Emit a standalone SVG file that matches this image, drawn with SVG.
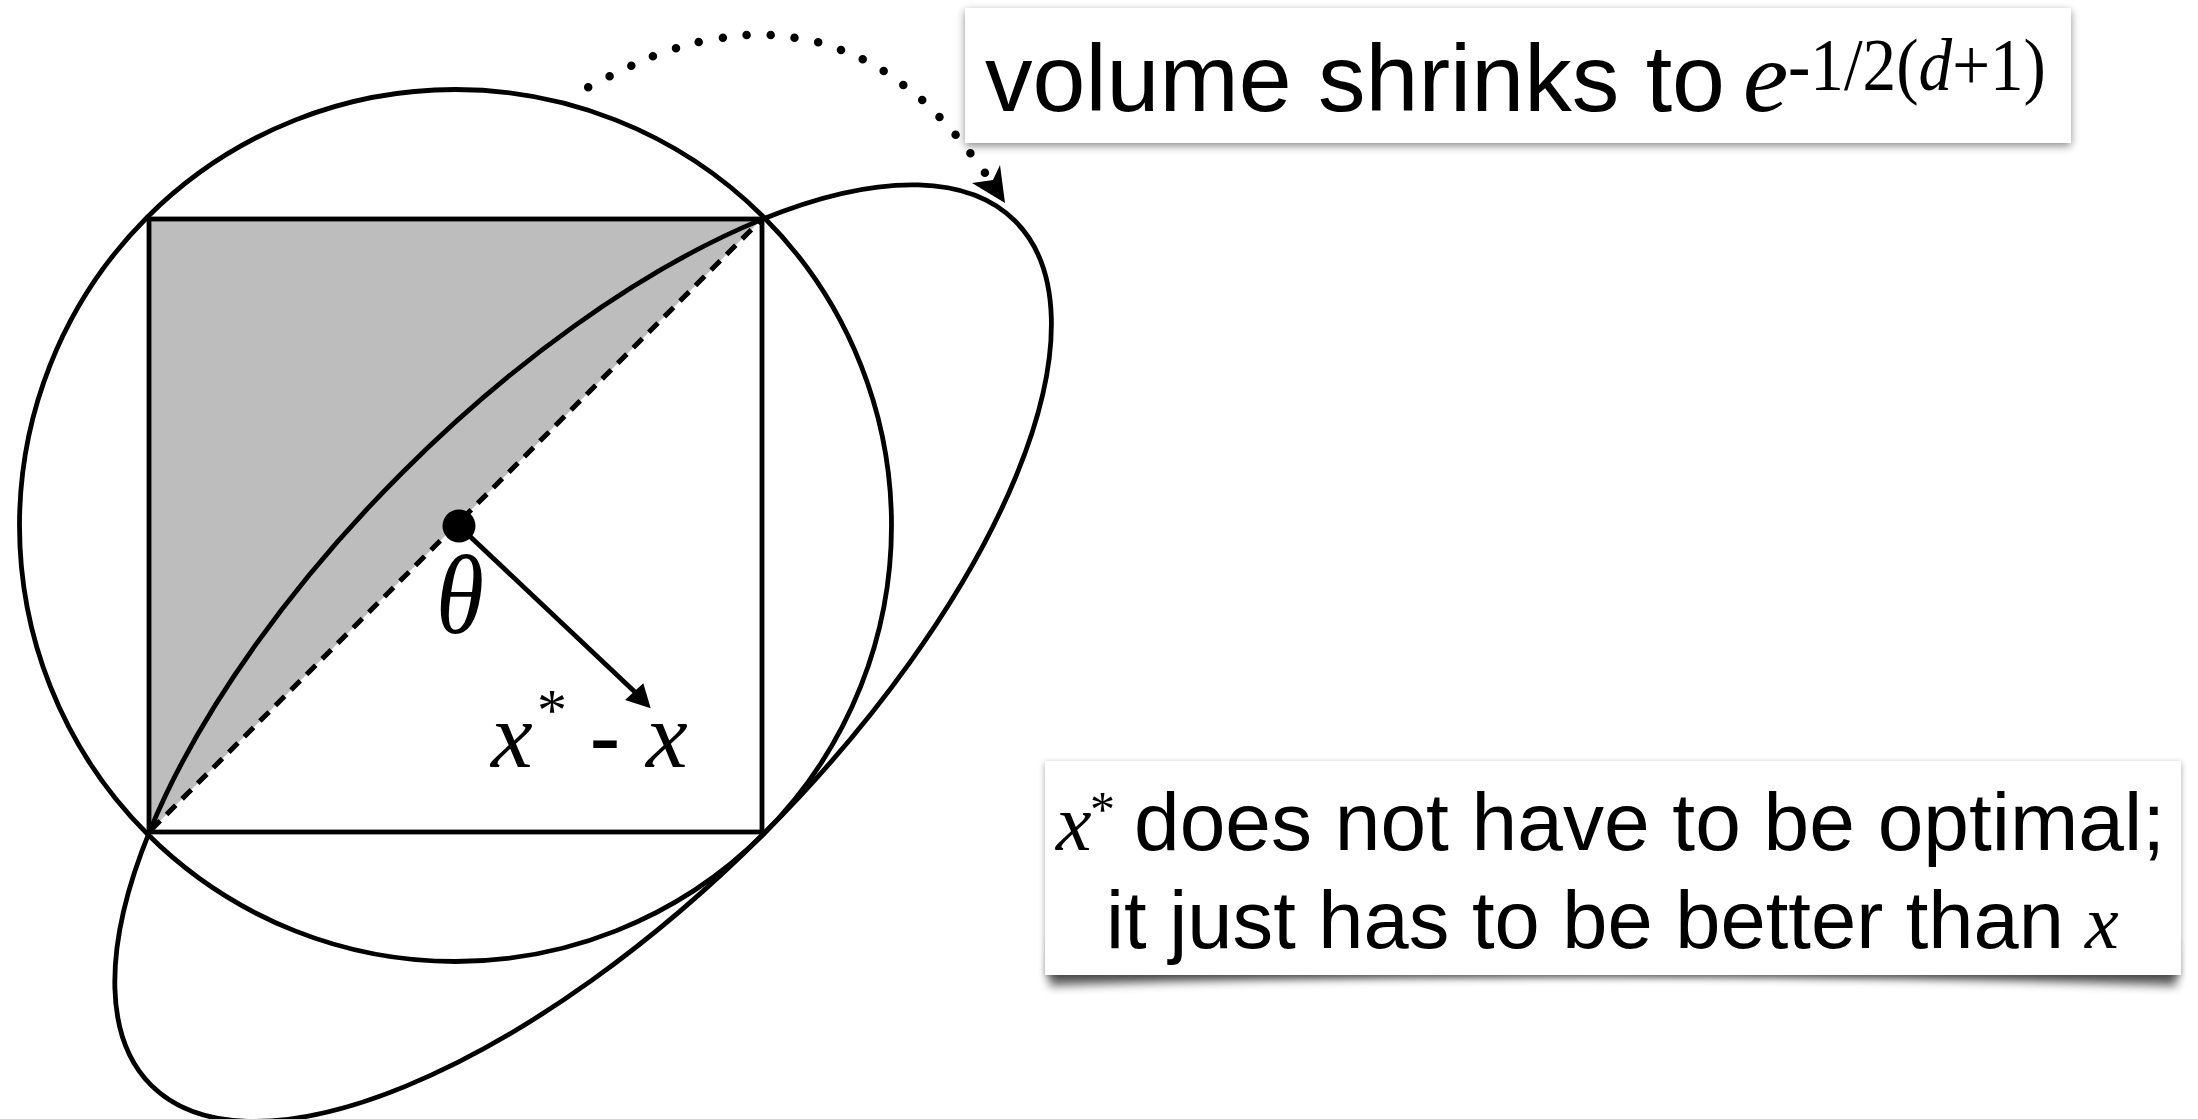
<svg xmlns="http://www.w3.org/2000/svg" width="2198" height="1119" viewBox="0 0 2198 1119">
  <style>
    .ln { fill: none; stroke: #000; stroke-width: 4.8; }
    .sans { font-family: "Liberation Sans", Arial, sans-serif; fill: #000; }
    .serif { font-family: "Liberation Serif", "Times New Roman", serif; fill: #000; }
    .it { font-style: italic; }
  </style>
  <defs>
    <filter id="sh1" x="-5%" y="-20%" width="110%" height="150%">
      <feDropShadow dx="0" dy="3" stdDeviation="4" flood-color="#000" flood-opacity="0.45"/>
    </filter>
    <filter id="sh2" x="-5%" y="-20%" width="110%" height="150%">
      <feDropShadow dx="0" dy="2" stdDeviation="3" flood-color="#000" flood-opacity="0.35"/>
    </filter>
    <filter id="blur" x="-10%" y="-100%" width="120%" height="300%">
      <feGaussianBlur stdDeviation="5"/>
    </filter>
  </defs>
  <rect width="2198" height="1119" fill="#fff"/>

  <g id="shaded-half">
    <polygon points="149,219 762,219 149,832" fill="#bdbdbd"/>
  </g>
  <g id="square">
    <rect x="149" y="219" width="613" height="613" class="ln"/>
  </g>
  <g id="circle">
    <circle cx="455.5" cy="525.5" r="436" class="ln"/>
  </g>
  <g id="ellipse">
    <ellipse cx="583.1" cy="653.1" rx="611" ry="255.5" transform="rotate(-45 583.1 653.1)" class="ln"/>
  </g>
  <g id="diagonal">
    <line x1="151" y1="830" x2="760" y2="221" fill="none" stroke="#000" stroke-width="5" stroke-dasharray="13 9"/>
  </g>
  <g id="center-point">
    <circle cx="459" cy="526" r="16.5" fill="#000"/>
    <text class="serif it" x="436" y="633" font-size="112" textLength="48" lengthAdjust="spacingAndGlyphs">θ</text>
  </g>

  <g id="connectors">
    <line x1="460" y1="527" x2="636" y2="693" stroke="#000" stroke-width="4.8"/>
    <polygon points="650.7,708.3 625,700 643.3,683.3" fill="#000"/>
    <path d="M588.2,87.3h0M609.6,76.3h0M631.3,65.7h0M652.9,56.3h0M676,48.3h0M698.7,42h0M722.9,37.7h0M746.6,35h0M770.7,35h0M794.5,37.7h0M818.2,42.3h0M841,50h0M862.7,59.3h0M883.7,71h0M903.3,85h0M922.2,100h0M939.5,117h0M955.6,134.7h0M970.4,153.3h0M984.9,172.7h0" fill="none" stroke="#000" stroke-width="8.5" stroke-linecap="round"/>
    <polygon points="972,183 1005,203 1000,165 993,180" fill="#000"/>
  </g>

  <g id="label-step">
    <text class="serif it" x="491" y="767" font-size="94">x</text>
    <text class="serif" x="537" y="730" font-size="60">*</text>
    <text class="sans" x="589" y="770" font-size="96">-</text>
    <text class="serif it" x="646" y="767" font-size="94">x</text>
  </g>

  <g id="box-volume">
    <rect x="965" y="8" width="1106" height="135" fill="#fff" filter="url(#sh1)"/>
    <text class="sans" x="985" y="111" font-size="95" textLength="740" lengthAdjust="spacingAndGlyphs">volume shrinks to</text>
    <text class="serif it" x="1743" y="111" font-size="102">e</text>
    <text class="serif" x="1788" y="90" font-size="74" textLength="258" lengthAdjust="spacingAndGlyphs">-1/2(<tspan class="it">d</tspan>+1)</text>
  </g>

  <g id="box-note">
    <path d="M1052,940 L2174,940 L2177,986 Q1613,966 1049,986 Z" fill="#000" opacity="0.6" filter="url(#blur)"/>
    <rect x="1045" y="761" width="1136" height="214" fill="#fff" filter="url(#sh2)"/>
    <text class="serif it" x="1056" y="850" font-size="80">x</text>
    <text class="serif" x="1090" y="826" font-size="50">*</text>
    <text class="sans" x="1134" y="850" font-size="82" textLength="1031" lengthAdjust="spacingAndGlyphs">does not have to be optimal;</text>
    <text class="sans" x="1106" y="948" font-size="82" textLength="958" lengthAdjust="spacingAndGlyphs">it just has to be better than</text>
    <text class="serif it" x="2085" y="948" font-size="76">x</text>
  </g>
</svg>
